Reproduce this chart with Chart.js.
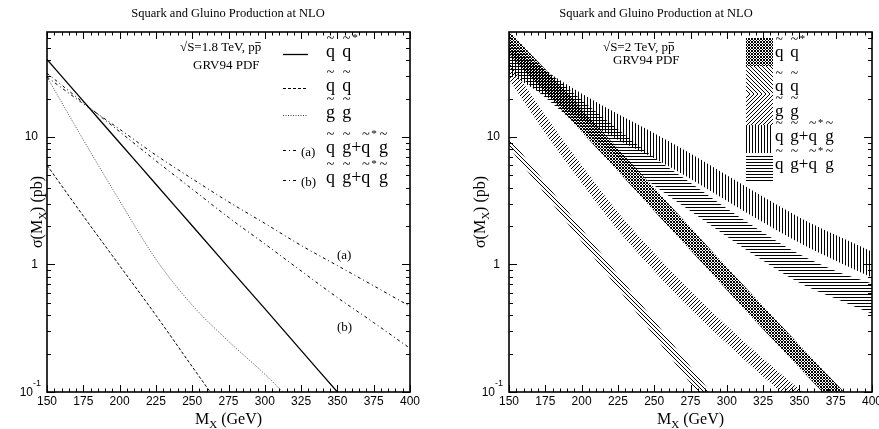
<!DOCTYPE html>
<html>
<head>
<meta charset="utf-8">
<script src="https://cdn.jsdelivr.net/npm/chart.js@4.4.1/dist/chart.umd.min.js"></script>
<style>
html, body { margin: 0; padding: 0; background: #fff; }
#wrap { position: relative; width: 879px; height: 429px; }
#wrap canvas { position: absolute; top: 0; }
</style>
</head>
<body>
<div id="wrap">
  <canvas id="left" width="440" height="429" style="left:0"></canvas>
  <canvas id="right" width="439" height="429" style="left:440px"></canvas>
</div>
<script>
// squark / gluino mass grid (GeV)
const masses = [150, 175, 200, 225, 250, 275, 300, 325, 350, 375, 400];
const xTicks = [150, 175, 200, 225, 250, 275, 300, 325, 350, 375, 400];
const yDecades = [0.1, 1, 10];

// left panel, sqrt(S)=1.8 TeV, sigma in pb
const sqsq18 = [40.5, 19.1, 9.0, 4.26, 2.01, 0.95, 0.45, 0.212, 0.100, 0.047, 0.022];
const sqsqbar18 = [6.0, 2.4, 0.98, 0.40, 0.158, 0.063, 0.025, 0.010, 0.004, 0.0016, 0.0006];
const glgl18 = [29.5, 9.5, 3.16, 1.10, 0.48, 0.25, 0.138, 0.072, 0.042, 0.025, 0.015];
const sqglA18 = [29.5, 18.2, 11.5, 7.2, 4.7, 3.1, 2.1, 1.41, 0.98, 0.68, 0.47];
const sqglB18 = [31.6, 18.6, 11.0, 6.5, 3.9, 2.34, 1.45, 0.89, 0.55, 0.35, 0.22];

// right panel, sqrt(S)=2 TeV, bands (upper / lower edge), pb
const sqsqHi = [67.6, 33.9, 16.6, 8.1, 3.98, 1.95, 0.95, 0.47, 0.234, 0.117, 0.059];
const sqsqLo = [44.7, 22.4, 11.0, 5.4, 2.63, 1.29, 0.63, 0.31, 0.155, 0.078, 0.039];
const sqsqbarHi = [10.0, 4.37, 1.91, 0.83, 0.363, 0.158, 0.069, 0.030, 0.013, 0.006, 0.0025];
const sqsqbarLo = [8.3, 3.55, 1.51, 0.65, 0.275, 0.117, 0.050, 0.021, 0.009, 0.004, 0.0017];
const glglHi = [38.9, 14.8, 6.0, 2.57, 1.23, 0.62, 0.331, 0.182, 0.105, 0.062, 0.037];
const glglLo = [28.2, 10.7, 4.37, 1.86, 0.89, 0.447, 0.240, 0.132, 0.076, 0.045, 0.027];
const sqglAHi = [50.1, 33.1, 21.9, 15.1, 10.7, 7.4, 5.0, 3.39, 2.34, 1.70, 1.26];
const sqglALo = [31.6, 20.9, 13.8, 9.5, 6.8, 4.7, 3.16, 2.14, 1.48, 1.07, 0.79];
const sqglBHi = [57.5, 33.9, 19.5, 11.5, 6.9, 4.37, 2.75, 1.78, 1.20, 0.89, 0.71];
const sqglBLo = [34.7, 20.4, 11.7, 6.9, 4.17, 2.63, 1.66, 1.07, 0.72, 0.54, 0.41];

// legend labels: [glyph, 1 = tilde over it, 2 = superscript]
const lblSqSq = [['q', 1], [' ', 0], ['q', 1], ['*', 2]];
const lblSqSqbar = [['q', 1], [' ', 0], ['q', 1]];
const lblGlGl = [['g', 1], [' ', 0], ['g', 1]];
const lblSqGl = [['q', 1], [' ', 0], ['g', 1], ['+', 0], ['q', 1], ['*', 2], ['g', 1]];

const SERIF = '"Liberation Serif", "Times New Roman", serif';
const SANS = '"Liberation Sans", Arial, sans-serif';

const pts = (arr) => masses.map((m, i) => ({ x: m, y: arr[i] }));

function hatch(ctx, kind) {
    const t = document.createElement('canvas');
    const s = (kind === 'horiz' || kind === 'vert' || kind === 'cross') ? 3 : 4;
    t.width = s; t.height = s;
    const g = t.getContext('2d');
    g.fillStyle = '#000';
    for (let i = 0; i < s; i++) {
        if (kind === 'horiz') g.fillRect(i, 0, 1, 1);
        if (kind === 'vert') g.fillRect(0, i, 1, 1);
        if (kind === 'down' || kind === 'cross') g.fillRect(i, i, 1, 1);
        if (kind === 'up' || kind === 'cross') g.fillRect(i, s - 1 - i, 1, 1);
    }
    return ctx.createPattern(t, 'repeat');
}

function drawLabel(ctx, tokens, x, base, size) {
    let cx = x;
    ctx.textAlign = 'left';
    ctx.textBaseline = 'alphabetic';
    for (const [t, f] of tokens) {
        if (t === ' ') { cx += size * 0.4; continue; }
        if (f === 2) {
            ctx.font = `${size * 0.62}px ${SERIF}`;
            cx += 1;
            ctx.fillText(t, cx, base - size * 0.9);
            cx += ctx.measureText(t).width + 2;
            continue;
        }
        ctx.font = `${size}px ${SERIF}`;
        const w = ctx.measureText(t).width;
        ctx.fillText(t, cx, base);
        if (f === 1) {
            ctx.font = `${size * 0.8}px ${SERIF}`;
            ctx.textAlign = 'center';
            ctx.fillText('~', cx + w / 2, base - size * 0.78);
            ctx.textAlign = 'left';
        }
        cx += w;
    }
}

function line(ctx, x1, y1, x2, y2) {
    ctx.beginPath(); ctx.moveTo(x1, y1); ctx.lineTo(x2, y2); ctx.stroke();
}

// sqrt(S) line with bar over the last p
function energyText(ctx, txt, x, base) {
    ctx.font = `13px ${SERIF}`;
    ctx.textAlign = 'left';
    ctx.textBaseline = 'alphabetic';
    ctx.fillText(txt + 'pp', x, base);
    const w = ctx.measureText(txt + 'p').width;
    const wp = ctx.measureText('p').width;
    ctx.lineWidth = 0.8;
    line(ctx, x + w + 0.5, base - 8.5, x + w + wp - 0.5, base - 8.5);
}

function axesDecor(cfg) {
    return {
        id: 'decor',
        afterDraw(chart) {
            const { ctx, chartArea: a, scales: { x, y } } = chart;
            ctx.save();
            ctx.fillStyle = '#000';
            ctx.strokeStyle = '#000';

            // ticks on all four sides, pointing in
            ctx.lineWidth = 1;
            for (let m = 150; m <= 400; m += 5) {
                const px = Math.round(x.getPixelForValue(m)) + 0.5;
                const len = m % 25 === 0 ? 7 : 3.5;
                line(ctx, px, a.bottom, px, a.bottom - len);
                line(ctx, px, a.top, px, a.top + len);
            }
            for (const d of yDecades) {
                for (let k = 1; k <= 9; k++) {
                    const v = d * k;
                    if (v > y.max) break;
                    const py = Math.round(y.getPixelForValue(v)) + 0.5;
                    const len = k === 1 ? 8 : 4;
                    line(ctx, a.left, py, a.left + len, py);
                    line(ctx, a.right, py, a.right - len, py);
                }
            }
            ctx.lineWidth = 1.6;
            ctx.strokeRect(a.left, a.top, a.right - a.left, a.bottom - a.top);

            // x tick labels
            ctx.font = `12px ${SANS}`;
            ctx.textAlign = 'center';
            ctx.textBaseline = 'top';
            for (const m of xTicks) ctx.fillText(String(m), x.getPixelForValue(m), a.bottom + 4);

            // y tick labels
            ctx.textBaseline = 'middle';
            ctx.textAlign = 'right';
            for (const d of yDecades) {
                const py = y.getPixelForValue(d);
                ctx.font = `12px ${SANS}`;
                if (d < 1) {
                    ctx.fillText('10', a.left - 14, py + 1);
                    ctx.font = `9px ${SANS}`;
                    ctx.textAlign = 'left';
                    ctx.fillText('-1', a.left - 14, py - 8);
                    ctx.textAlign = 'right';
                } else {
                    ctx.fillText(String(d), a.left - 9, py);
                }
            }

            // title
            ctx.font = `12.5px ${SERIF}`;
            ctx.textAlign = 'center';
            ctx.textBaseline = 'alphabetic';
            ctx.fillText('Squark and Gluino Production at NLO', cfg.titleX, 17);

            // x axis title  M_X (GeV)
            const cxm = (a.left + a.right) / 2;
            ctx.font = `16px ${SERIF}`;
            const wM = ctx.measureText('M').width;
            const wR = ctx.measureText(' (GeV)').width;
            ctx.font = `11px ${SERIF}`;
            const wX = ctx.measureText('X').width;
            let sx = cxm - (wM + wX + wR) / 2;
            ctx.textAlign = 'left';
            ctx.font = `16px ${SERIF}`;
            ctx.fillText('M', sx, 424);
            ctx.font = `11px ${SERIF}`;
            ctx.fillText('X', sx + wM, 428);
            ctx.font = `16px ${SERIF}`;
            ctx.fillText(' (GeV)', sx + wM + wX, 424);

            // y axis title  sigma(M_X) (pb)
            ctx.save();
            ctx.translate(cfg.yTitleX, (a.top + a.bottom) / 2);
            ctx.rotate(-Math.PI / 2);
            ctx.font = `16px ${SERIF}`;
            const w1 = ctx.measureText('\u03c3(M').width;
            const w3 = ctx.measureText(') (pb)').width;
            ctx.font = `11px ${SERIF}`;
            const w2 = ctx.measureText('X').width;
            sx = -(w1 + w2 + w3) / 2;
            ctx.font = `16px ${SERIF}`;
            ctx.fillText('\u03c3(M', sx, 0);
            ctx.font = `11px ${SERIF}`;
            ctx.fillText('X', sx + w1, 4);
            ctx.font = `16px ${SERIF}`;
            ctx.fillText(') (pb)', sx + w1 + w2, 0);
            ctx.restore();

            // energy / pdf note
            energyText(ctx, cfg.energy, cfg.noteX, 51);
            ctx.font = `13px ${SERIF}`;
            ctx.fillText('GRV94 PDF', cfg.pdfX, cfg.pdfY);

            cfg.extra(ctx, chart);
            ctx.restore();
        }
    };
}

// ---------- left panel ----------
const leftLines = [
    { label: 'sqsq*', data: sqsq18, dash: [], width: 1.3, color: '#000' },
    { label: 'sqsq', data: sqsqbar18, dash: [3, 2], width: 1, color: '#000' },
    { label: 'glgl', data: glgl18, dash: [1, 1.5], width: 1, color: '#444' },
    { label: 'sqgl a', data: sqglA18, dash: [3, 3, 1, 3], width: 1, color: '#000' },
    { label: 'sqgl b', data: sqglB18, dash: [3, 3, 1, 3], width: 1, color: '#000' },
];

new Chart(document.getElementById('left'), {
    type: 'line',
    data: {
        datasets: leftLines.map((s) => ({
            label: s.label,
            data: pts(s.data),
            borderColor: s.color,
            borderWidth: s.width,
            borderDash: s.dash,
            pointRadius: 0,
            fill: false,
            cubicInterpolationMode: 'monotone',
        })),
    },
    options: {
        responsive: false,
        animation: false,
        layout: { padding: { left: 47, right: 30, top: 32, bottom: 37 } },
        plugins: { legend: { display: false }, tooltip: { enabled: false } },
        scales: {
            x: { type: 'linear', min: 150, max: 400, display: false },
            y: { type: 'logarithmic', min: 0.1, max: 66.5, display: false },
        },
    },
    plugins: [axesDecor({
        titleX: 228, yTitleX: 42, energy: '\u221aS=1.8 TeV, ', noteX: 180, pdfX: 193, pdfY: 69,
        extra(ctx) {
            const rows = [57, 91, 118, 153, 183];
            const labels = [lblSqSq, lblSqSqbar, lblGlGl, lblSqGl, lblSqGl];
            leftLines.forEach((s, i) => {
                ctx.strokeStyle = s.color;
                ctx.lineWidth = s.width;
                ctx.setLineDash(s.dash);
                const x2 = i >= 3 ? 298 : 308;
                line(ctx, 283, rows[i] - 2.5, x2, rows[i] - 2.5);
                ctx.setLineDash([]);
                drawLabel(ctx, labels[i], 326, rows[i], 18);
            });
            ctx.font = `13px ${SERIF}`;
            ctx.textAlign = 'left';
            ctx.fillText('(a)', 301, 156);
            ctx.fillText('(b)', 301, 186);
            ctx.fillText('(a)', 337, 259);
            ctx.fillText('(b)', 337, 331);
        },
    })],
});

// ---------- right panel ----------
const rctx = document.getElementById('right').getContext('2d');
const rightBands = [
    { label: 'sqsq*', hi: sqsqHi, lo: sqsqLo, pat: hatch(rctx, 'cross') },
    { label: 'sqsq', hi: sqsqbarHi, lo: sqsqbarLo, pat: hatch(rctx, 'down') },
    { label: 'glgl', hi: glglHi, lo: glglLo, pat: hatch(rctx, 'up') },
    { label: 'sqgl a', hi: sqglAHi, lo: sqglALo, pat: hatch(rctx, 'vert') },
    { label: 'sqgl b', hi: sqglBHi, lo: sqglBLo, pat: hatch(rctx, 'horiz') },
];

const bandSets = [];
rightBands.forEach((b) => {
    bandSets.push({
        label: b.label + ' hi', data: pts(b.hi), borderColor: 'rgba(0,0,0,0)', borderWidth: 0,
        pointRadius: 0, fill: '+1', backgroundColor: b.pat, cubicInterpolationMode: 'monotone',
    });
    bandSets.push({
        label: b.label + ' lo', data: pts(b.lo), borderColor: 'rgba(0,0,0,0)', borderWidth: 0,
        pointRadius: 0, fill: false, cubicInterpolationMode: 'monotone',
    });
});

new Chart(rctx, {
    type: 'line',
    data: { datasets: bandSets },
    options: {
        responsive: false,
        animation: false,
        layout: { padding: { left: 69, right: 7, top: 32, bottom: 37 } },
        plugins: { legend: { display: false }, tooltip: { enabled: false } },
        scales: {
            x: { type: 'linear', min: 150, max: 400, display: false },
            y: { type: 'logarithmic', min: 0.1, max: 66.5, display: false },
        },
    },
    plugins: [axesDecor({
        titleX: 216, yTitleX: 45, energy: '\u221aS=2 TeV, ', noteX: 163, pdfX: 173, pdfY: 64,
        extra(ctx) {
            const boxes = [[38, 66], [66, 94], [94, 125], [125, 153], [155, 182]];
            const rows = [57, 91, 116, 141, 169];
            const labels = [lblSqSq, lblSqSqbar, lblGlGl, lblSqGl, lblSqGl];
            rightBands.forEach((b, i) => {
                ctx.fillStyle = b.pat;
                ctx.fillRect(306, boxes[i][0], 27, boxes[i][1] - boxes[i][0]);
                ctx.fillStyle = '#000';
                drawLabel(ctx, labels[i], 335, rows[i], 17);
            });
        },
    })],
});
</script>
</body>
</html>
